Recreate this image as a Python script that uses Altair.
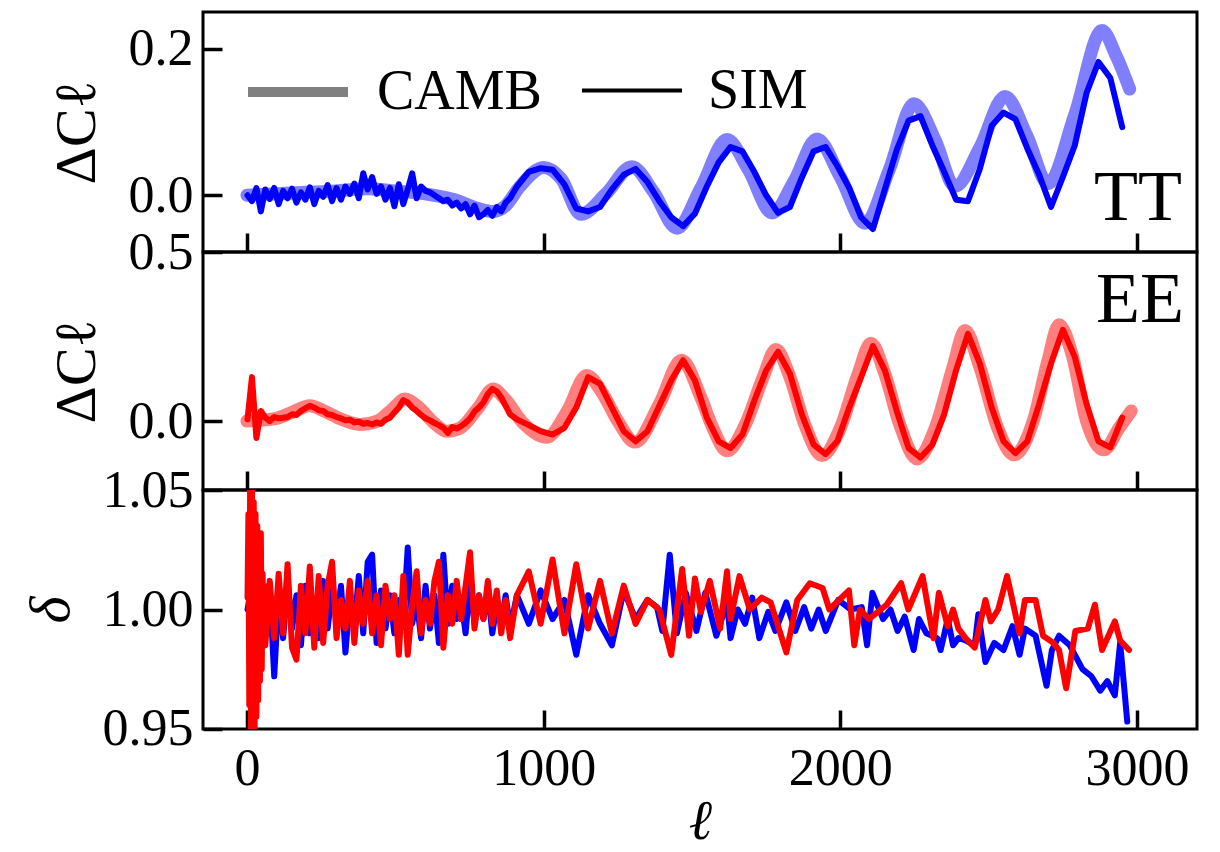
import altair as alt
import pandas as pd

FONT = "Liberation Serif"

# ---------------- data ----------------
ell_lo = list(range(2, 888, 15))      # 60 multipoles
ell_hi = list(range(910, 2951, 40))   # 52 multipoles

# TT, theory (CAMB)
tt_camb_ell = [0, 100, 200, 300, 400, 500, 600, 700, 780, 830,
               870, 920, 1000, 1060, 1125, 1210, 1297, 1370, 1449, 1530,
               1618, 1690, 1770, 1845, 1921, 2000, 2083, 2165, 2248, 2320,
               2386, 2470, 2555, 2630, 2700, 2790, 2882, 2930, 2975]
tt_camb = [0.000, 0.002, 0.004, 0.006, 0.009, 0.006, 0.002, -0.006, -0.018, -0.022,
           -0.015, 0.012, 0.038, 0.022, -0.026, 0.002, 0.039, 0.005, -0.045, 0.010,
           0.076, 0.035, -0.024, 0.020, 0.077, 0.025, -0.038, 0.035, 0.125, 0.075,
           0.012, 0.065, 0.135, 0.080, 0.016, 0.110, 0.225, 0.190, 0.145]

# TT, simulation
tt_sim_lo = [0.000, -0.008, 0.010, -0.022, 0.008, -0.005, 0.010, -0.012, 0.006, -0.004,
             0.009, -0.010, 0.004, -0.006, 0.011, -0.012, 0.006, -0.002, 0.014, -0.008,
             0.010, -0.006, 0.012, 0.002, 0.016, -0.004, 0.030, 0.008, 0.025, 0.002,
             0.012, -0.006, 0.010, -0.015, 0.015, -0.012, 0.008, 0.030, -0.004, 0.012,
             0.006, 0.004, 0.000, -0.004, -0.008, -0.006, -0.014, -0.010, -0.018, -0.012,
             -0.026, -0.014, -0.030, -0.026, -0.020, -0.028, -0.016, -0.022, -0.010, -0.004]
tt_sim_hi = [0.012, 0.032, 0.037, 0.035, 0.015, -0.018, -0.022, -0.016, 0.008, 0.028,
             0.036, 0.018, -0.008, -0.030, -0.042, -0.025, 0.012, 0.045, 0.066, 0.060,
             0.032, 0.000, -0.024, -0.016, 0.024, 0.060, 0.066, 0.040, 0.010, -0.030,
             -0.046, 0.008, 0.062, 0.102, 0.108, 0.068, 0.032, -0.006, -0.008, 0.036,
             0.095, 0.113, 0.104, 0.064, 0.028, -0.016, 0.025, 0.068, 0.140, 0.182,
             0.160, 0.093]

# EE, theory (CAMB)
ee_camb_ell = [0, 50, 100, 150, 212, 260, 320, 380, 440, 490,
               532, 580, 630, 673, 720, 780, 830, 870, 930, 1010,
               1080, 1145, 1200, 1250, 1308, 1390, 1465, 1530, 1570, 1618,
               1680, 1740, 1783, 1830, 1880, 1938, 2000, 2060, 2103, 2150,
               2200, 2258, 2320, 2380, 2420, 2470, 2530, 2585, 2650, 2700,
               2737, 2780, 2830, 2888, 2940, 2980]
ee_camb = [0.000, 0.003, 0.008, 0.025, 0.045, 0.030, 0.005, -0.010, 0.000, 0.035,
           0.065, 0.040, -0.005, -0.030, -0.020, 0.040, 0.095, 0.065, -0.005, -0.048,
           0.030, 0.135, 0.080, 0.000, -0.062, 0.050, 0.180, 0.070, -0.020, -0.088,
           -0.010, 0.130, 0.212, 0.130, -0.010, -0.102, -0.020, 0.140, 0.230, 0.140,
           -0.010, -0.112, -0.020, 0.160, 0.268, 0.160, -0.020, -0.100, 0.000, 0.180,
           0.285, 0.200, 0.000, -0.085, -0.020, 0.030]

# EE, simulation
ee_sim_lo = [0.005, 0.130, -0.050, 0.030, 0.010, 0.000, 0.012, 0.008, 0.010, 0.012,
             0.020, 0.018, 0.030, 0.038, 0.045, 0.040, 0.032, 0.030, 0.020, 0.018,
             0.012, 0.008, 0.002, 0.004, -0.004, -0.002, -0.008, -0.006, -0.010, -0.004,
             -0.008, 0.004, 0.010, 0.025, 0.040, 0.062, 0.055, 0.040, 0.030, 0.018,
             0.008, 0.002, -0.006, -0.012, -0.020, -0.035, -0.018, -0.022, -0.015, -0.005,
             0.008, 0.028, 0.040, 0.055, 0.080, 0.095, 0.088, 0.070, 0.045, 0.020]
ee_sim_hi = [0.005, -0.012, -0.030, -0.040, -0.020, 0.040, 0.130, 0.110, 0.040, -0.030,
             -0.060, -0.030, 0.045, 0.120, 0.180, 0.120, 0.010, -0.060, -0.080, -0.040,
             0.060, 0.150, 0.205, 0.140, 0.020, -0.070, -0.098, -0.060, 0.040, 0.130,
             0.222, 0.150, 0.030, -0.080, -0.108, -0.070, 0.020, 0.150, 0.258, 0.170,
             0.040, -0.060, -0.095, -0.060, 0.050, 0.170, 0.270, 0.190, 0.050, -0.060,
             -0.078, 0.010]

# ratio delta, TT
ratio_tt_ell = ell_lo + [910, 950, 990, 1030, 1070, 1110, 1150, 1190, 1230, 1270, 1310, 1350,
                         1382, 1400, 1425, 1449, 1479, 1515, 1545, 1582, 1618, 1630,
                         1654, 1679, 1703, 1727, 1757, 1781, 1818, 1848, 1878, 1902,
                         1927, 1951, 1993, 2035, 2072, 2090, 2108, 2144, 2169, 2193,
                         2217, 2247, 2265, 2290, 2326, 2338, 2362, 2380, 2398, 2423,
                         2453, 2465, 2489, 2519, 2550, 2580, 2604, 2622, 2658, 2695,
                         2713, 2737, 2773, 2816, 2846, 2876, 2900, 2925, 2943, 2967]
ratio_tt = [1.000, 1.010, 0.985, 1.012, 0.990, 1.008, 0.972, 1.006, 0.988, 1.012,
            0.992, 1.006, 0.985, 1.010, 0.990, 1.004, 0.988, 1.012, 0.992, 1.008,
            0.996, 1.010, 0.982, 1.004, 0.992, 1.014, 0.990, 1.020, 1.023, 0.986,
            1.008, 0.992, 1.006, 0.990, 1.004, 0.995, 1.026, 0.994, 1.004, 0.988,
            1.010, 0.992, 1.006, 0.986, 1.023, 0.994, 1.010, 0.996, 1.004, 0.990,
            1.012, 0.994, 1.006, 0.996, 1.008, 0.990, 1.002, 0.994, 1.006, 0.992,
            1.006, 0.994, 1.008, 0.996, 1.004, 0.981, 1.006, 0.994, 0.985, 1.008,
            0.996, 1.004,
            1.001, 0.991, 1.023, 0.990, 1.007, 0.991, 1.007, 0.989, 1.003, 0.988,
            1.000, 0.994, 1.005, 0.988, 0.999, 0.991, 1.003, 0.991, 1.001, 0.992,
            1.000, 0.991, 1.004, 1.000, 1.001, 0.985, 1.007, 0.996, 1.000, 0.991,
            0.997, 0.983, 0.996, 0.990, 0.988, 0.983, 0.996, 0.985, 0.988, 0.987,
            0.985, 0.998, 0.978, 0.986, 0.983, 0.993, 0.981, 0.992, 0.989, 0.968,
            0.983, 0.989, 0.985, 0.975, 0.972, 0.966, 0.970, 0.964, 0.986, 0.953]

# ratio delta, EE
ratio_ee_ell = ([2, 5, 8, 11, 14, 17, 20, 23, 26, 29, 32, 35, 38, 41, 44, 47, 50, 53, 56, 59]
                + ell_lo[4:]
                + [910, 950, 990, 1030, 1070, 1110, 1150, 1190, 1230, 1270, 1310, 1350,
                   1390, 1430, 1467, 1490, 1510, 1530, 1560, 1595, 1618, 1630,
                   1660, 1695, 1735, 1765, 1818, 1855, 1897, 1940, 1963, 2029,
                   2047, 2066, 2096, 2156, 2205, 2229, 2277, 2314, 2332, 2362,
                   2380, 2398, 2422, 2453, 2489, 2507, 2532, 2562, 2604, 2622,
                   2658, 2683, 2718, 2737, 2761, 2792, 2834, 2858, 2882, 2925,
                   2943, 2973])
ratio_ee = [1.005, 1.040, 0.960, 1.060, 0.940, 1.055, 0.945, 1.045, 0.950, 1.040,
            0.955, 1.035, 0.962, 1.030, 0.970, 1.032, 0.975, 1.015, 0.985, 1.010,
            0.985, 1.012, 0.988, 1.015, 0.990, 1.019, 0.984, 0.979, 1.010, 0.990,
            1.018, 0.984, 1.014, 0.986, 1.010, 1.020, 0.988, 1.004, 0.992, 1.012,
            0.986, 1.008, 0.994, 1.012, 0.990, 1.006, 0.985, 1.010, 0.996, 1.006,
            0.981, 1.014, 0.981, 1.002, 1.016, 0.990, 1.004, 0.994, 1.012, 1.020,
            0.984, 1.006, 0.994, 1.012, 0.996, 1.010, 1.024, 0.992, 1.006, 0.996,
            1.012, 0.994, 1.008, 0.990, 1.004, 0.988,
            1.006, 1.016, 0.994, 1.021, 0.990, 1.019, 0.992, 1.012, 0.990, 1.010,
            0.994, 1.004,
            1.000, 0.981, 1.017, 0.989, 1.013, 0.999, 1.012, 0.992, 1.016, 0.996,
            1.014, 1.000, 1.005, 1.003, 0.982, 1.004, 1.011, 1.009, 1.000, 1.008,
            0.985, 1.000, 0.996, 1.002, 1.011, 1.000, 1.014, 0.988, 1.007, 0.993,
            1.000, 0.992, 0.988, 0.984, 1.004, 0.995, 1.000, 1.014, 0.990, 1.004,
            1.004, 0.989, 0.986, 0.983, 0.967, 0.991, 0.992, 1.002, 0.983, 0.995,
            0.987, 0.983]

legend_names = ["CAMB", "SIM"]
legend_colors = ["#808080", "#000000"]
legend_widths = [10, 4]

x_ticks = [0, 1000, 2000, 3000]


def frame(ell, val):
    if len(ell) != len(val):
        raise ValueError(f"length mismatch {len(ell)} vs {len(val)}")
    return pd.DataFrame({"ell": ell, "val": val})


df_tt_camb = frame(tt_camb_ell, tt_camb)
df_tt_sim = frame(ell_lo + ell_hi, tt_sim_lo + tt_sim_hi)
df_ee_camb = frame(ee_camb_ell, ee_camb)
df_ee_sim = frame(ell_lo + ell_hi, ee_sim_lo + ee_sim_hi)
df_r_tt = frame(ratio_tt_ell, ratio_tt)
df_r_ee = frame(ratio_ee_ell, ratio_ee)
df_leg = pd.DataFrame({"series": legend_names, "ell": [None, None], "val": [None, None]})
df_tt_lab = pd.DataFrame({"ell": [3003], "val": [-0.034], "label": ["TT"]})
df_ee_lab = pd.DataFrame({"ell": [3010], "val": [0.293], "label": ["EE"]})

# ---------------- styling helpers ----------------
W = 994
TICK = 19
LW = 6
xscale = alt.Scale(domain=[-148, 3202], nice=False, zero=False)


def label_y(values, fmt, title, italic=False):
    kw = dict(values=values, format=fmt, title=title, ticks=False, domain=False, grid=False,
              labelFont=FONT, labelFontSize=52, labelColor="black", labelPadding=10,
              titleFont=FONT, titleFontSize=58, titleColor="black", titleFontWeight="normal",
              titlePadding=22)
    if italic:
        kw["titleFontStyle"] = "italic"
    return alt.Axis(**kw)


def tick_axis(orient, values):
    return alt.Axis(orient=orient, values=values, offset=-TICK, tickSize=TICK, tickWidth=3.5,
                    tickColor="black", labels=False, domain=False, grid=False, title=None)


label_x = alt.Axis(values=x_ticks, format="d", title="ℓ", ticks=False, domain=False, grid=False,
                   labelFont=FONT, labelFontSize=52, labelColor="black", labelPadding=14,
                   titleFont=FONT, titleFontSize=56, titleFontStyle="italic",
                   titleFontWeight="normal", titleColor="black", titlePadding=0)


def line(df, color, width, opacity=1.0, interp="linear", xaxis=None, yaxis=None, yscale=None):
    return alt.Chart(df).mark_line(color=color, strokeWidth=width, opacity=opacity,
                                   interpolate=interp, strokeJoin="round", strokeCap="round",
                                   clip=True).encode(
        x=alt.X("ell:Q", scale=xscale, axis=xaxis),
        y=alt.Y("val:Q", scale=yscale, axis=yaxis),
    )


def label_text(df, yscale):
    return alt.Chart(df).mark_text(font=FONT, fontSize=72, color="black", align="center",
                                   baseline="alphabetic").encode(
        x=alt.X("ell:Q", scale=xscale, axis=None),
        y=alt.Y("val:Q", scale=yscale, axis=None),
        text="label:N",
    )


def legend_def():
    return alt.Legend(title=None, orient="none", legendX=40, legendY=25,
                      direction="horizontal", symbolType="stroke", symbolSize=10000,
                      labelFont=FONT, labelFontSize=56, labelColor="black", labelLimit=0,
                      labelOffset=24, columnPadding=32, padding=0)


# ---------------- panel 1: TT ----------------
ys1 = alt.Scale(domain=[-0.0774, 0.2502], nice=False, zero=False)
p1_camb = line(df_tt_camb, "#0000ff", 13, 0.5, "monotone", None,
               label_y([0.0, 0.2], ".1f", "ΔCℓ"), ys1)
p1_sim = line(df_tt_sim, "#0000ff", LW, 1.0, "linear", tick_axis("bottom", x_ticks),
              tick_axis("left", [0.0, 0.2]), ys1)
p1_leg = alt.Chart(df_leg).mark_line().encode(
    x=alt.X("ell:Q", scale=xscale, axis=None),
    y=alt.Y("val:Q", scale=ys1, axis=None),
    color=alt.Color("series:N", scale=alt.Scale(domain=legend_names, range=legend_colors),
                    legend=legend_def()),
    strokeWidth=alt.StrokeWidth("series:N",
                                scale=alt.Scale(domain=legend_names, range=legend_widths),
                                legend=legend_def()),
)
panel1 = alt.layer(p1_camb, p1_sim, label_text(df_tt_lab, ys1), p1_leg).resolve_axis(
    x="independent", y="independent").properties(width=W, height=240)

# ---------------- panel 2: EE ----------------
ys2 = alt.Scale(domain=[-0.204, 0.5002], nice=False, zero=False)
p2_camb = line(df_ee_camb, "#ff0000", 13, 0.5, "monotone", None,
               label_y([0.0, 0.5], ".1f", "ΔCℓ"), ys2)
p2_sim = line(df_ee_sim, "#ff0000", LW, 1.0, "linear", tick_axis("bottom", x_ticks),
              tick_axis("left", [0.0, 0.5]), ys2)
panel2 = alt.layer(p2_camb, p2_sim, label_text(df_ee_lab, ys2)).resolve_axis(
    x="independent", y="independent").properties(width=W, height=238)

# ---------------- panel 3: ratio ----------------
ys3 = alt.Scale(domain=[0.9499, 1.0501], nice=False, zero=False)
p3_tt = line(df_r_tt, "#0000ff", LW, 1.0, "linear", label_x,
             label_y([0.95, 1.0, 1.05], ".2f", "δ", italic=True), ys3)
p3_ee = line(df_r_ee, "#ff0000", LW, 1.0, "linear", tick_axis("bottom", x_ticks),
             tick_axis("left", [0.95, 1.0, 1.05]), ys3)
panel3 = alt.layer(p3_tt, p3_ee).resolve_axis(
    x="independent", y="independent").properties(width=W, height=239)

chart = alt.vconcat(panel1, panel2, panel3, spacing=0, bounds="flush").resolve_scale(
    color="independent", strokeWidth="independent"
).properties(
    padding={"left": 12, "top": 2, "right": 5, "bottom": 0},
    background="white",
).configure_view(
    stroke="black", strokeWidth=3
).configure_axis(
    labelFont=FONT, titleFont=FONT
)

chart.save("out.html", embed_options={"renderer": "svg", "actions": False})
